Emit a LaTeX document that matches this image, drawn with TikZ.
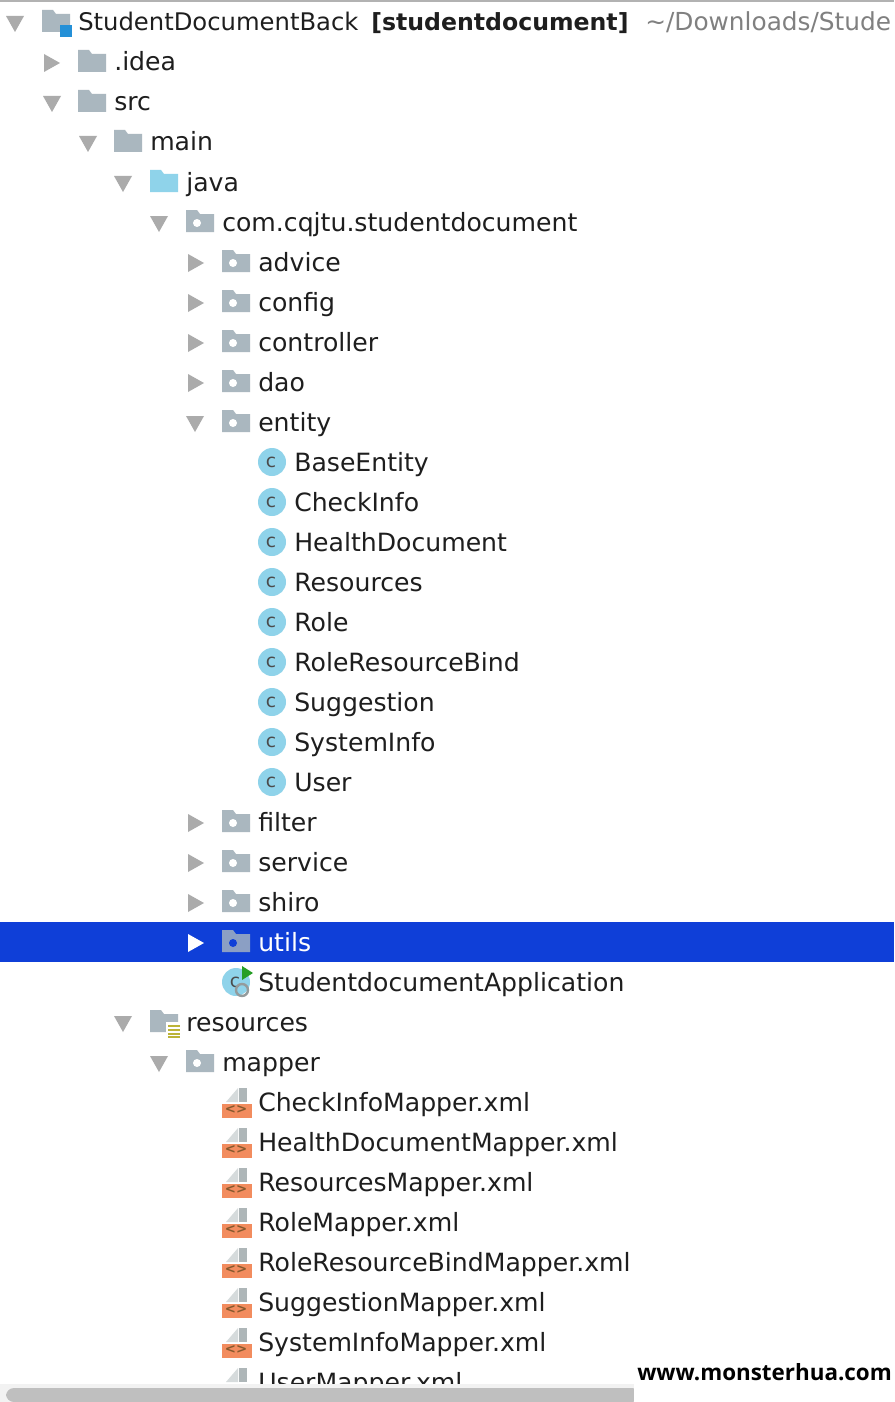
\documentclass[tikz,border=0pt]{standalone}
\usepackage{fontspec}
\setmainfont{DejaVu Sans}
\newfontfamily\markfont{Open Sans}
\definecolor{foldergray}{HTML}{AAB7BF}
\definecolor{folderblue}{HTML}{8FD3EA}
\definecolor{arrowgray}{HTML}{ABABAB}
\definecolor{selblue}{HTML}{0F3FD8}
\definecolor{xmlorange}{HTML}{F28C5E}
\definecolor{pagegray}{HTML}{AEB6B8}
\definecolor{labeldark}{HTML}{1E1E1E}
\tikzset{
    rowtext/.style={anchor=base west, inner sep=0pt, text=labeldark, font=\fontsize{18.85}{24}\selectfont},
    openarrow/.pic={\fill[arrowgray] (-9,-6) -- (9,-6) -- (0,10) -- cycle;},
    shutarrow/.pic={\fill[arrowgray] (-8,-8) -- (8,1) -- (-8,10) -- cycle;},
    foldericon/.pic={\fill[pic actions] (0,-12) -- (11,-12) -- (14,-8) -- (28,-8) -- (28,10) -- (0,10) -- cycle;},
    packageicon/.pic={\fill[pic actions] (0,-12) -- (11,-12) -- (14,-8) -- (28,-8) -- (28,10) -- (0,10) -- cycle;
        \fill[white] (11,1) circle (4);},
    classicon/.pic={\fill[folderblue] (0,0) circle (14);
        \node[inner sep=0pt, text=labeldark!80, font=\fontsize{14}{14}\selectfont] (-letter) at (-1,0) {c};},
    xmlicon/.pic={\fill[pagegray!50] (4,0) -- (16,-14) -- (16,0) -- cycle;
        \fill[pagegray] (17,-14) -- (25,-14) -- (25,0) -- (17,0) -- cycle;
        \fill[xmlorange] (0,2) rectangle (30,16);
        \node[inner sep=0pt, text=brown!70!black, font=\fontsize{10}{10}\selectfont\bfseries] (-tag) at (14,8) {<>};},
}
\begin{document}
\begin{tikzpicture}[x=0.75pt,y=-0.75pt]
    \useasboundingbox (0,0) rectangle (894,1402);
    \fill[white] (0,0) rectangle (894,1402);
    \fill[gray!60] (0,0) rectangle (894,2);
    % selected row
    \fill[selblue] (0,922) rectangle (894,962);

    % root row
    \pic at (15,22) {openarrow};
    \pic[fill=foldergray] at (42,22) {foldericon};
    \fill[cyan!70!blue!90] (60,25) rectangle (72,37);
    \node[rowtext, font=\fontsize{18.2}{24}\selectfont] (rootname) at (78,31) {StudentDocumentBack};
    \node[rowtext, font=\fontsize{17.7}{24}\selectfont\bfseries] (rootmodule) at (371,31) {[studentdocument]};
    \node[rowtext, text=gray, font=\fontsize{18.6}{24}\selectfont] (rootpath) at (645,31) {\textasciitilde/Downloads/Stude};

    % folders down to the package
    \pic at (52,62) {shutarrow};
    \pic[fill=foldergray] at (78,62) {foldericon};
    \node[rowtext] (idea) at (114,71) {.idea};
    \pic at (52,102) {openarrow};
    \pic[fill=foldergray] at (78,102) {foldericon};
    \node[rowtext] (src) at (114,111) {src};
    \pic at (88,142) {openarrow};
    \pic[fill=foldergray] at (114,142) {foldericon};
    \node[rowtext] (main) at (150,151) {main};
    \pic at (123,182) {openarrow};
    \pic[fill=folderblue] at (150,182) {foldericon};
    \node[rowtext] (java) at (186,191) {java};
    \pic at (159,222) {openarrow};
    \pic[fill=foldergray] at (186,222) {packageicon};
    \node[rowtext] (basepkg) at (222,231) {com.cqjtu.studentdocument};

    % packages
    \foreach \rowy/\pkg in {262/advice,302/config,342/controller,382/dao,822/filter,862/service,902/shiro} {
        \pic at (196,\rowy) {shutarrow};
        \pic[fill=foldergray] at (222,\rowy) {packageicon};
        \node[rowtext] (\pkg) at (258,\rowy+9) {\pkg};
    }
    \pic at (195,422) {openarrow};
    \pic[fill=foldergray] at (222,422) {packageicon};
    \node[rowtext] (entity) at (258,431) {entity};

    % entity classes
    \foreach \rowy/\cls in {462/BaseEntity,502/CheckInfo,542/HealthDocument,582/Resources,622/Role,662/RoleResourceBind,702/Suggestion,742/SystemInfo,782/User} {
        \pic (icon\cls) at (272,\rowy) {classicon};
        \node[rowtext] (\cls) at (294,\rowy+9) {\cls};
    }

    % selected package
    \fill[white] (188,934) -- (204,943) -- (188,952) -- cycle;
    \pic[fill=foldergray!80!selblue] at (222,942) {foldericon};
    \fill[selblue] (233,943) circle (4);
    \node[rowtext, text=white] (utils) at (258,951) {utils};

    % application class
    \pic (iconapp) at (236,982) {classicon};
    \fill[green!55!black!85] (242,966) -- (253,973) -- (242,980) -- cycle;
    \draw[pagegray!85!black, line width=1.8pt] (242,990) circle (6);
    \node[rowtext] (application) at (258,991) {StudentdocumentApplication};

    % resources
    \pic at (123,1022) {openarrow};
    \pic[fill=foldergray] at (150,1022) {foldericon};
    \fill[white] (166,1022) rectangle (182,1039);
    \foreach \liney in {1026,1030,1034,1037} {
        \draw[yellow!70!black, line width=1.3pt] (168,\liney) -- (180,\liney);
    }
    \node[rowtext] (resources) at (186,1031) {resources};
    \pic at (159,1062) {openarrow};
    \pic[fill=foldergray] at (186,1062) {packageicon};
    \node[rowtext] (mapper) at (222,1071) {mapper};

    % mapper files
    \foreach \rowy/\xml in {1102/CheckInfoMapper,1142/HealthDocumentMapper,1182/ResourcesMapper,1222/RoleMapper,1262/RoleResourceBindMapper,1302/SuggestionMapper,1342/SystemInfoMapper,1382/UserMapper} {
        \pic (icon\xml) at (222,\rowy) {xmlicon};
        \node[rowtext] (\xml) at (258,\rowy+9) {\xml.xml};
    }

    % scroll bar and watermark
    \fill[gray!10] (0,1384) rectangle (634,1402);
    \fill[gray!50, rounded corners=6pt] (6,1388) rectangle (640,1402);
    \fill[white] (634,1360) rectangle (894,1402);
    \node[anchor=base west, inner sep=0pt, font=\markfont\bfseries\fontsize{16.8}{20}\selectfont] (watermark) at (637,1380) {www.monsterhua.com};
\end{tikzpicture}
\end{document}
